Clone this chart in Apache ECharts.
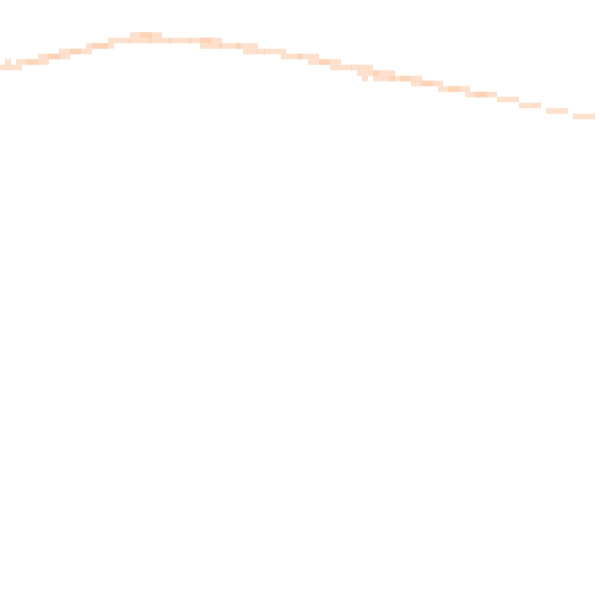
<!DOCTYPE html>
<html>
<head>
  <meta charset="utf-8">
  <title>curve</title>
  <script src="https://cdn.jsdelivr.net/npm/echarts@6/dist/echarts.min.js"></script>
  <style>
    html, body { margin: 0; padding: 0; background: #fff; }
    #chart { width: 600px; height: 600px; }
  </style>
</head>
<body>
  <div id="chart"></div>
  <script>
    // centre of each sample (x, y)
    var xs = [11, 27, 38, 49, 59, 70, 81, 97, 103, 119, 140, 141, 151, 160, 180, 200, 211, 211, 230, 247,
              254, 275, 292, 308, 319, 330, 341, 362, 368, 384, 384, 400, 411, 422, 432, 449, 459, 476, 486,
              508, 530, 557, 584];
    var ys = [67.5, 62, 62, 56.5, 56.5, 51.5, 51.5, 46, 46, 40.5, 40.5, 35, 35, 40.5, 40.5, 40.5, 40.5, 46, 46, 46,
              51.5, 51.5, 56.5, 56.5, 62, 62, 67.5, 67.5, 73, 73, 78.5, 78.5, 78.5, 83.5, 83.5, 89, 89, 94.5, 94.5,
              99.5, 105.5, 111, 116.5];
    // small stray pieces
    var smallX = [8, 365];
    var smallY = [62, 78.5];

    var points = xs.map(function (x, i) { return [x, ys[i]]; });
    var smallPoints = smallX.map(function (x, i) { return [x, smallY[i]]; });

    var chart = echarts.init(document.getElementById('chart'));
    var option = {
      animation: false,
      grid: { left: 0, right: 0, top: 0, bottom: 0 },
      xAxis: { type: 'value', min: 0, max: 600, show: false },
      yAxis: { type: 'value', min: 0, max: 600, inverse: true, show: false },
      series: [
        {
          type: 'scatter',
          symbol: 'rect',
          symbolSize: [22, 5.5],
          data: points,
          itemStyle: { color: '#FFC8A0', opacity: 0.55 }
        },
        {
          type: 'scatter',
          symbol: 'rect',
          symbolSize: [6, 5.5],
          data: smallPoints,
          itemStyle: { color: '#FFC8A0', opacity: 0.55 }
        }
      ]
    };
    chart.setOption(option);
  </script>
</body>
</html>
